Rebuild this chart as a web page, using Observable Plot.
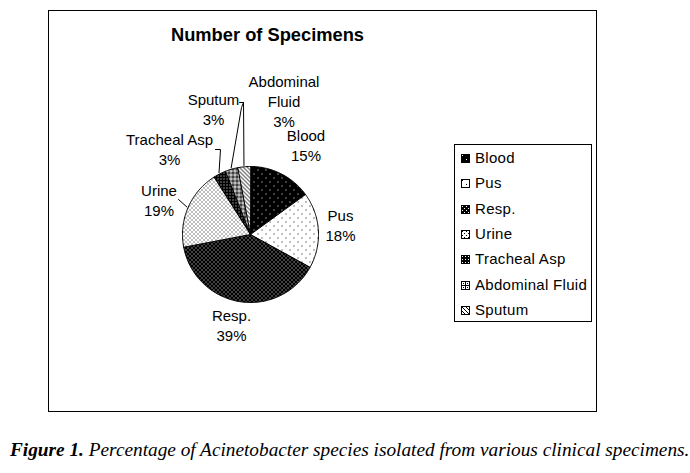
<!DOCTYPE html>
<html>
<head>
<meta charset="utf-8">
<script src="https://cdn.jsdelivr.net/npm/d3@7"></script>
<script src="https://cdn.jsdelivr.net/npm/@observablehq/plot@0.6"></script>
<style>
  html, body { margin: 0; padding: 0; background: #fff; }
  body { width: 690px; height: 473px; position: relative; overflow: hidden; font-family: Arial, "Liberation Sans", sans-serif; color: #000; }
  #chart { position: absolute; left: 0; top: 0; }
  #frame { position: absolute; left: 48px; top: 10px; width: 547px; height: 400px; border: 1px solid #000; pointer-events: none; }
  #title { position: absolute; left: 0; width: 535px; text-align: center; top: 25px; font: bold 18.3px Arial, "Liberation Sans", sans-serif; line-height: 20px; }
  #legend { position: absolute; left: 454px; top: 144px; width: 136px; height: 176px; border: 1px solid #000; background: transparent; }
  .row { position: absolute; left: 0; height: 20px; line-height: 20px; font-size: 15px; letter-spacing: 0.3px; white-space: nowrap; }
  .row svg { position: absolute; left: 6px; top: 6px; }
  .row span { position: absolute; left: 20px; top: 0; }
  #caption { position: absolute; left: 10px; top: 438px; font: italic 19.3px "Liberation Serif", "Times New Roman", serif; line-height: 24px; white-space: nowrap; }
  #caption b { font-weight: bold; }
</style>
</head>
<body>
<div id="chart"></div>
<div id="frame"></div>
<div id="title">Number of Specimens</div>
<div id="legend"></div>
<div id="caption"><b>Figure 1.</b> Percentage of Acinetobacter species isolated from various clinical specimens.</div>
<svg width="0" height="0" style="position:absolute">
  <defs>
    <pattern id="pBlood" width="8" height="8" patternUnits="userSpaceOnUse">
      <rect width="8" height="8" fill="#000"/>
      <rect x="1" y="1" width="1" height="1" fill="#fff"/>
      <rect x="5" y="5" width="1" height="1" fill="#fff"/>
    </pattern>
    <pattern id="pPus" width="8" height="8" patternUnits="userSpaceOnUse">
      <rect width="8" height="8" fill="#fff"/>
      <rect x="1" y="1" width="1" height="1" fill="#000"/>
      <rect x="5" y="5" width="1" height="1" fill="#000"/>
    </pattern>
    <pattern id="pResp" width="4" height="4" patternUnits="userSpaceOnUse">
      <rect width="4" height="4" fill="#000"/>
      <rect x="1" y="1" width="1" height="1" fill="#fff"/>
      <rect x="3" y="3" width="1" height="1" fill="#fff"/>
    </pattern>
    <pattern id="pUrine" width="4" height="4" patternUnits="userSpaceOnUse">
      <rect width="4" height="4" fill="#fff"/>
      <rect x="1" y="1" width="1" height="1" fill="#000"/>
      <rect x="3" y="3" width="1" height="1" fill="#000"/>
    </pattern>
    <pattern id="pTracheal" width="3" height="3" patternUnits="userSpaceOnUse">
      <rect width="3" height="3" fill="#000"/>
      <rect x="1" y="1" width="1" height="1" fill="#fff"/>
    </pattern>
    <pattern id="pAbdominal" width="4" height="4" patternUnits="userSpaceOnUse">
      <rect width="4" height="4" fill="#fff"/>
      <rect x="0" y="0" width="4" height="1" fill="#000"/>
      <rect x="0" y="0" width="1" height="4" fill="#000"/>
      <rect x="2" y="2" width="1" height="1" fill="#000"/>
    </pattern>
    <pattern id="pSputum" width="4" height="4" patternUnits="userSpaceOnUse">
      <rect width="4" height="4" fill="#fff"/>
      <path d="M0,0 L4,4 M-1,3 L1,5 M3,-1 L5,1" stroke="#000" stroke-width="1"/>
    </pattern>
  </defs>
</svg>
<script>
// ---- data ----
const categories = ["Blood", "Pus", "Resp.", "Urine", "Tracheal Asp", "Abdominal Fluid", "Sputum"];
const percents = [15, 18, 39, 19, 3, 3, 3];
const labelNames = ["Blood", "Pus", "Resp.", "Urine", "Tracheal Asp", "Abdominal\nFluid", "Sputum"];

// ---- layout / style (not data) ----
const patterns = ["url(#pBlood)", "url(#pPus)", "url(#pResp)", "url(#pUrine)", "url(#pTracheal)", "url(#pAbdominal)", "url(#pSputum)"];
const W = 690, H = 420, CX = 250, CY = 234, R = 68;
// label block centres, in pixels relative to the pie centre (y downward)
const labelOffsets = [[55.5, -89.5], [90, -9.5], [-19, 90.5], [-91.5, -35], [-81, -86], [33.5, -133.5], [-37, -126]];
// leader lines: start relative to label centre, optional elbow relative to start (pixels)
const leaderLayout = {
  3: {start: [19.5, 0], elbow: null},
  4: {start: [46, 1], elbow: [5, 0]},
  5: {start: [-40.5, 1.5], elbow: [-2, 5]},
  6: {start: [26, -6], elbow: [4, 0]}
};

const rad = d => d * Math.PI / 180;
const arcs = d3.pie().sort(null).value(d => d)(percents);

const slices = arcs.map((a, i) => {
  const pts = [{x: 0, y: 0}];
  const n = Math.max(2, Math.ceil((a.endAngle - a.startAngle) / rad(1)));
  for (let k = 0; k <= n; k++) {
    const t = a.startAngle + (a.endAngle - a.startAngle) * k / n;
    pts.push({x: Math.sin(t), y: Math.cos(t)});
  }
  return {name: categories[i], pts, mid: (a.startAngle + a.endAngle) / 2};
});

const labels = slices.map((s, i) => ({
  text: labelNames[i] + "\n" + percents[i] + "%",
  x: labelOffsets[i][0] / R,
  y: -labelOffsets[i][1] / R
}));

const leaders = [];
Object.entries(leaderLayout).forEach(([k, L]) => {
  const i = +k;
  const lx = labelOffsets[i][0], ly = labelOffsets[i][1];
  const sx = lx + L.start[0], sy = ly + L.start[1];
  const pts = [{x: sx / R, y: -sy / R, id: i}];
  if (L.elbow) pts.push({x: (sx + L.elbow[0]) / R, y: -(sy + L.elbow[1]) / R, id: i});
  const m = slices[i].mid;
  pts.push({x: Math.sin(m) * 1.02, y: Math.cos(m) * 1.02, id: i});
  leaders.push(...pts);
});

const plot = Plot.plot({
  width: W, height: H,
  margin: 0,
  style: {background: "transparent"},
  x: {axis: null, domain: [-CX / R, (W - CX) / R], range: [0, W]},
  y: {axis: null, domain: [-(H - CY) / R, CY / R], range: [H, 0]},
  marks: [
    ...slices.map((s, i) => Plot.line(s.pts, {
      x: "x", y: "y", curve: "linear-closed",
      fill: patterns[i], stroke: "#000", strokeWidth: 1, strokeLinejoin: "round"
    })),
    Plot.line(leaders, {x: "x", y: "y", z: "id", stroke: "#000", strokeWidth: 1}),
    Plot.text(labels, {
      x: "x", y: "y", text: "text",
      fontSize: 15, fontFamily: "Arial, 'Liberation Sans', sans-serif",
      lineHeight: 1.333, textAnchor: "middle", lineAnchor: "middle", fill: "#000"
    })
  ]
});
document.getElementById("chart").appendChild(plot);

// legend
const legend = d3.select("#legend");
categories.forEach((c, i) => {
  const row = legend.append("div").attr("class", "row").style("top", (3 + i * 25.3) + "px");
  const sw = row.append("svg").attr("width", 9).attr("height", 9);
  sw.append("rect").attr("x", 0.5).attr("y", 0.5).attr("width", 8).attr("height", 8)
    .attr("fill", patterns[i]).attr("stroke", "#000").attr("stroke-width", 1);
  row.append("span").text(c);
});
</script>
</body>
</html>
